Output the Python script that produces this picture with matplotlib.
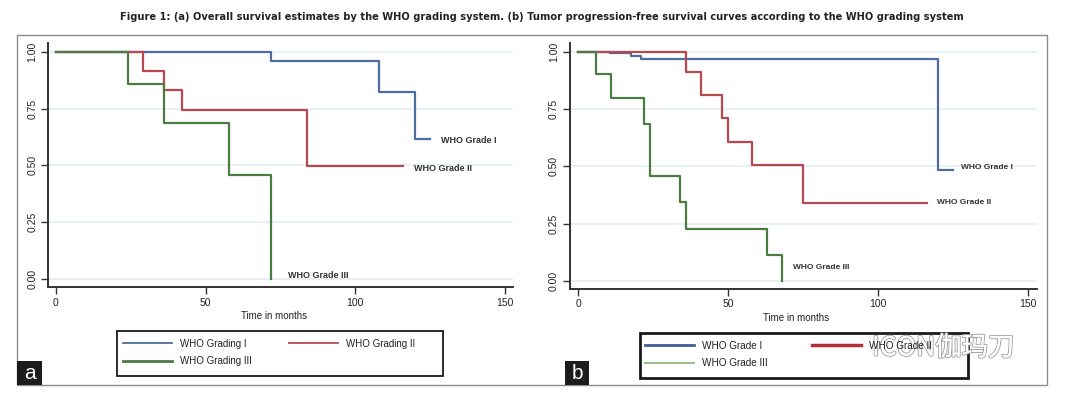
import matplotlib
matplotlib.use("Agg")
import matplotlib.pyplot as plt
from matplotlib.patches import Rectangle
from matplotlib.lines import Line2D
import matplotlib.patheffects as pe

# ---------------- data ----------------
# Panel a: overall survival (Kaplan-Meier, step post)
a_g1_t = [0, 72.0, 107.9, 119.9, 124.9]
a_g1_s = [1.0, 0.962, 0.825, 0.618, 0.618]
a_g2_t = [0, 29.0, 36.0, 42.0, 84.0, 116.0]
a_g2_s = [1.0, 0.917, 0.833, 0.743, 0.495, 0.495]
a_g3_t = [0, 24.1, 36.0, 57.9, 72.0]
a_g3_s = [1.0, 0.857, 0.686, 0.457, 0.0]

# Panel b: progression-free survival
b_g1_t = [0, 10.6, 17.6, 20.9, 120.2, 125.2]
b_g1_s = [1.0, 0.994, 0.984, 0.969, 0.484, 0.484]
b_g2_t = [0, 35.8, 40.9, 48.0, 50.1, 58.1, 75.1, 116.3]
b_g2_s = [1.0, 0.911, 0.810, 0.710, 0.608, 0.506, 0.338, 0.338]
b_g3_t = [0, 5.8, 10.9, 22.0, 23.9, 33.9, 35.8, 63.1, 68.1]
b_g3_s = [1.0, 0.902, 0.800, 0.685, 0.459, 0.344, 0.227, 0.114, 0.0]

a_legend = ["WHO Grading I", "WHO Grading II", "WHO Grading III"]
b_legend = ["WHO Grade I", "WHO Grade II", "WHO Grade III"]
curve_labels = ["WHO Grade I", "WHO Grade II", "WHO Grade III"]
a_label_pos = [(128.8, 0.609), (119.7, 0.487), (77.6, 0.016)]
b_label_pos = [(127.6, 0.496), (119.6, 0.341), (71.8, 0.058)]

x_ticks = [0, 50, 100, 150]
y_ticks = [0.0, 0.25, 0.5, 0.75, 1.0]
y_ticklabels = ["0.00", "0.25", "0.50", "0.75", "1.00"]

title = ("Figure 1: (a) Overall survival estimates by the WHO grading system. "
         "(b) Tumor progression-free survival curves according to the WHO grading system")

BLUE = "#4f6c9e"
RED = "#b9474f"
GREEN = "#4c7c43"
colors = [BLUE, RED, GREEN]

W, H = 1080, 397
fig = plt.figure(figsize=(W / 100, H / 100), dpi=100)
fig.patch.set_facecolor("white")

def fx(x):
    return x / W

def fy(y):
    return 1 - y / H

def rect(l, r, t, b):
    return [fx(l), fy(b), fx(r) - fx(l), fy(t) - fy(b)]

# outer frame
fig.patches.append(Rectangle((fx(17.3), fy(385)), fx(1046.7) - fx(17.3), fy(35) - fy(385),
                             transform=fig.transFigure, fill=False, edgecolor="#8a8a8a",
                             linewidth=1.0, zorder=0))

fig.text(fx(542), fy(17), title, ha="center", va="center", fontsize=7.1,
         fontweight="bold", family="DejaVu Sans", color="#222222")

TICKFONT = "Liberation Sans"

def setup(ax, xlim, ylim):
    ax.set_xlim(*xlim)
    ax.set_ylim(*ylim)
    for s in ["top", "right"]:
        ax.spines[s].set_visible(False)
    for s in ["left", "bottom"]:
        ax.spines[s].set_color("#333333")
        ax.spines[s].set_linewidth(1.4)
    ax.set_yticks(y_ticks)
    ax.set_yticklabels(y_ticklabels, rotation=90, va="center")
    ax.set_xticks(x_ticks)
    ax.tick_params(axis="both", direction="out", length=5, width=1.0, color="#333333",
                   labelsize=7.5, labelcolor="#222222")
    ax.tick_params(axis="y", pad=3)
    ax.tick_params(axis="x", pad=2.5)
    for lab in ax.get_xticklabels() + ax.get_yticklabels():
        lab.set_family(TICKFONT)
    for yv in y_ticks:
        ax.axhline(yv, color="#e3eef3", linewidth=1.2, zorder=0)
    ax.set_xlabel("Time in months", fontsize=7, family=TICKFONT, color="#222222")
    ax.xaxis.set_label_coords(0.485, -0.097)
    ax.patch.set_alpha(0)

# ---------------- panel a ----------------
axa = fig.add_axes(rect(48.3, 513.3, 43.3, 287.3))
setup(axa, (-2.57, 152.8), (-0.038, 1.038))
hs_a = []
for (t, s), c, lab in zip([(a_g1_t, a_g1_s), (a_g2_t, a_g2_s), (a_g3_t, a_g3_s)], colors, a_legend):
    h, = axa.step(t, s, where="post", color=c, linewidth=1.6, label=lab)
    hs_a.append(h)
for (x, y), lab in zip(a_label_pos, curve_labels):
    axa.text(x, y, lab, fontsize=6.5, fontweight="bold", family=TICKFONT,
             ha="left", va="center", color="#333333")

# ---------------- panel b ----------------
axb = fig.add_axes(rect(570, 1036.7, 43.3, 289))
setup(axb, (-2.77, 153.0), (-0.036, 1.038))
hs_b = []
for (t, s), c, lab in zip([(b_g1_t, b_g1_s), (b_g2_t, b_g2_s), (b_g3_t, b_g3_s)], colors, b_legend):
    h, = axb.step(t, s, where="post", color=c, linewidth=1.6, label=lab)
    hs_b.append(h)
for (x, y), lab in zip(b_label_pos, curve_labels):
    axb.text(x, y, lab, fontsize=6, fontweight="bold", family=TICKFONT,
             ha="left", va="center", color="#333333")

# ---------------- legends ----------------
def make_legend(ax, handles, labels, x_handle, y_center, fs, colsp, box, lw_box, hcolors, hlw):
    proxies = [Line2D([], [], color=c, linewidth=w) for c, w in zip(hcolors, hlw)]
    # order so that ncol=2 gives rows: (I, II), (III, -)
    order = [0, 2, 1]
    leg = fig.legend([proxies[i] for i in order], [labels[i] for i in order],
                     ncol=2, loc="center left",
                     bbox_to_anchor=(fx(x_handle), fy(y_center)),
                     bbox_transform=fig.transFigure,
                     frameon=False, borderpad=0, borderaxespad=0,
                     handlelength=49 / (fs * 100 / 72), handletextpad=0.8,
                     columnspacing=colsp, labelspacing=0.75,
                     prop={"family": TICKFONT, "size": fs})
    for t in leg.get_texts():
        t.set_color("#222222")
    l, r, t, b = box
    fig.patches.append(Rectangle((fx(l), fy(b)), fx(r) - fx(l), fy(t) - fy(b),
                                 transform=fig.transFigure, fill=False,
                                 edgecolor="#1a1a1a", linewidth=lw_box))
    return leg

make_legend(axa, hs_a, a_legend, 123, 352.5, 7, 3.85, (116.7, 443.3, 331, 376), 1.3,
            [BLUE, RED, GREEN], [1.3, 1.3, 2.0])
make_legend(axb, hs_b, b_legend, 645, 354.7, 7.2, 4.4, (640, 967.7, 332.7, 378.3), 2.0,
            ["#3f5f95", "#b3303b", "#9dbd8f"], [2.0, 2.5, 1.5])

# panel letters
for (l, r), letter in [((17.3, 41.7), "a"), ((565, 589), "b")]:
    fig.patches.append(Rectangle((fx(l), fy(385)), fx(r) - fx(l), fy(361) - fy(385),
                                 transform=fig.transFigure, facecolor="#1c1c1c",
                                 edgecolor="none"))
    fig.text(fx((l + r) / 2), fy(373.5), letter, ha="center", va="center",
             fontsize=15, family=TICKFONT, color="white")

# watermark
wm = fig.text(fx(872), fy(348), "ICON伽玛刀", ha="left", va="center", fontsize=19,
              family=["Noto Sans CJK SC", "DejaVu Sans"], color="white", alpha=0.95)
wm.set_path_effects([pe.withStroke(linewidth=1.5, foreground="#a0a0a0"), pe.Normal()])

fig.savefig("out.png", dpi=100, facecolor="white")
